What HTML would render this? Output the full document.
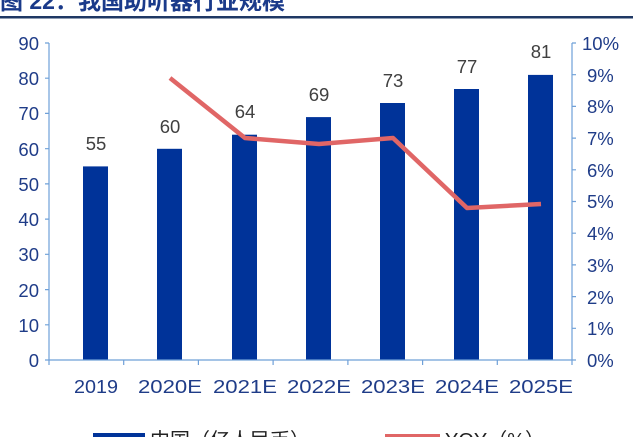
<!DOCTYPE html>
<html><head><meta charset="utf-8"><style>
body{margin:0;width:633px;height:437px;overflow:hidden;background:#fff}
</style></head><body>
<svg width="633" height="437" xmlns="http://www.w3.org/2000/svg" font-family="Liberation Sans, Noto Sans CJK SC, sans-serif">
<text x="0" y="9" font-size="23" font-weight="bold" fill="#1a3a8a" font-family="Liberation Sans, Noto Sans CJK SC, sans-serif">图 22：我国助听器行业规模</text>
<rect x="0" y="16" width="633" height="2.5" fill="#1f3864"/>
<g fill="#003399">
<rect x="83" y="166.4" width="25" height="193.6"/>
<rect x="157" y="148.8" width="25" height="211.2"/>
<rect x="232" y="134.7" width="25" height="225.3"/>
<rect x="306" y="117.1" width="25" height="242.9"/>
<rect x="380" y="103" width="25" height="257"/>
<rect x="454" y="89" width="25" height="271"/>
<rect x="528" y="74.9" width="25" height="285.1"/>
</g>
<polyline points="170,78 245,138 319,144 393,138 467,208 541,204" fill="none" stroke="#e06666" stroke-width="4.5" stroke-linejoin="round"/>
<g stroke="#6fa0d8" stroke-width="1.2" fill="none">
<line x1="49" y1="43" x2="49" y2="360"/>
<line x1="572" y1="43" x2="572" y2="360"/>
<line x1="49" y1="360" x2="572" y2="360"/>
<path d="M45 43H49M45 78.2H49M45 113.4H49M45 148.7H49M45 183.9H49M45 219.1H49M45 254.3H49M45 289.6H49M45 324.8H49M45 360H49"/>
<path d="M572 43H576M572 74.7H576M572 106.4H576M572 138.1H576M572 169.8H576M572 201.5H576M572 233.2H576M572 264.9H576M572 296.6H576M572 328.3H576M572 360H576"/>
<path d="M49 360V365M123.7 360V365M198.4 360V365M273.1 360V365M347.9 360V365M422.6 360V365M497.3 360V365M572 360V365"/>
</g>
<g font-size="18.5" fill="#1f3c88" text-anchor="end">
<text x="39" y="50">90</text><text x="39" y="85">80</text><text x="39" y="120">70</text><text x="39" y="156">60</text><text x="39" y="191">50</text><text x="39" y="226">40</text><text x="39" y="261">30</text><text x="39" y="297">20</text><text x="39" y="332">10</text><text x="39" y="367">0</text>
</g>
<g font-size="18.5" fill="#1f3c88">
<text x="582" y="50">10%</text><text x="587" y="82">9%</text><text x="587" y="113">8%</text><text x="587" y="145">7%</text><text x="587" y="177">6%</text><text x="587" y="208">5%</text><text x="587" y="240">4%</text><text x="587" y="272">3%</text><text x="587" y="304">2%</text><text x="587" y="335">1%</text><text x="587" y="367">0%</text>
</g>
<g font-size="18.5" fill="#1f3c88" text-anchor="middle">
<text x="96" y="393" textLength="44" lengthAdjust="spacingAndGlyphs">2019</text><text x="170" y="393" textLength="64" lengthAdjust="spacingAndGlyphs">2020E</text><text x="245" y="393" textLength="64" lengthAdjust="spacingAndGlyphs">2021E</text><text x="319" y="393" textLength="64" lengthAdjust="spacingAndGlyphs">2022E</text><text x="393" y="393" textLength="64" lengthAdjust="spacingAndGlyphs">2023E</text><text x="467" y="393" textLength="64" lengthAdjust="spacingAndGlyphs">2024E</text><text x="541" y="393" textLength="64" lengthAdjust="spacingAndGlyphs">2025E</text>
</g>
<g font-size="18.5" fill="#404040" text-anchor="middle">
<text x="96" y="150">55</text><text x="170" y="133">60</text><text x="245" y="118">64</text><text x="319" y="101">69</text><text x="393" y="87">73</text><text x="467" y="73">77</text><text x="541" y="58">81</text>
</g>
<rect x="93" y="433" width="52" height="5" fill="#003399"/>
<text x="150" y="447" font-size="20" fill="#222">中国（亿人民币）</text>
<rect x="385" y="434" width="55" height="4" fill="#e06666"/>
<text x="445" y="447" font-size="20" fill="#222">YOY（%）</text>
</svg>
</body></html>
